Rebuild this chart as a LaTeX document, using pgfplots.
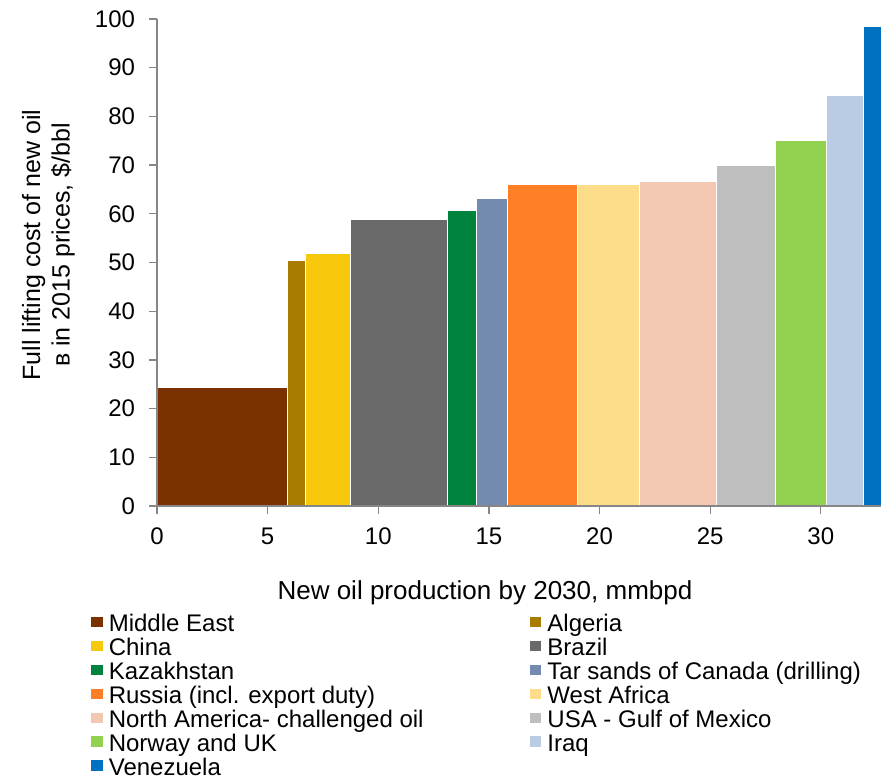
\documentclass[border=0pt]{standalone}
\usepackage{fontspec}
\setmainfont{Liberation Sans}
\usepackage{pgfplots}
\pgfplotsset{compat=1.18}

\definecolor{axgray}{RGB}{134,134,134}
\definecolor{cME}{RGB}{122,51,0}
\definecolor{cAL}{RGB}{168,124,0}
\definecolor{cCN}{RGB}{248,200,12}
\definecolor{cBR}{RGB}{105,105,105}
\definecolor{cKZ}{RGB}{0,132,61}
\definecolor{cCA}{RGB}{114,139,174}
\definecolor{cRU}{RGB}{255,127,39}
\definecolor{cWA}{RGB}{253,220,138}
\definecolor{cNA}{RGB}{242,200,178}
\definecolor{cUS}{RGB}{190,190,190}
\definecolor{cNO}{RGB}{146,208,80}
\definecolor{cIQ}{RGB}{185,204,228}
\definecolor{cVE}{RGB}{0,112,192}

\begin{document}
\begin{tikzpicture}
\begin{axis}[
  name=ax,
  scale only axis,
  width=724pt, height=487pt,
  xmin=0, xmax=32.72, ymin=0, ymax=100,
  xtick={0,5,...,30}, ytick={0,10,...,100},
  axis x line*=bottom, axis y line*=left,
  axis line style={draw=axgray, line width=1.3pt, -},
  tick style={draw=axgray, line width=1.3pt},
  tick align=outside, major tick length=7.5pt,
  axis on top,
  ticklabel style={font=\fontsize{24}{24}\selectfont},
  xticklabel shift=11pt, yticklabel shift=11pt,
  /pgf/number format/assume math mode=true,
  xlabel={New oil production by 2030, mmbpd},
  xlabel style={font=\fontsize{26}{26}\selectfont,
    at={(axis description cs:0.453,-0.191)}, anchor=base},
  ylabel={Full lifting cost of new oil\\в in 2015 prices, \$/bbl},
  ylabel style={font=\fontsize{25}{29.5}\selectfont, align=center,
    at={(axis description cs:-0.150,0.536)}, anchor=center},
  legend columns=2,
  legend cell align=left,
  legend style={at={(axis description cs:-0.0925,-0.2235)}, anchor=north west,
    draw=none, fill=none, inner sep=0pt, outer sep=0pt,
    row sep=0pt, column sep=0pt,
    font=\fontsize{24}{24}\selectfont,
    nodes={inner sep=0pt, text height=17pt, text depth=6.9pt},
    /tikz/every even column/.append style={column sep=105pt}},
  legend image code/.code={\fill[#1] (0pt,-1pt) rectangle (12.5pt,10.5pt); \path (18pt,0pt);},
]
% each producer is a block: width = volume (mmbpd), height = cost ($/bbl)
\addplot[fill=cME, draw=white, line width=0.8pt] coordinates {(0,24.4) (5.90,24.4)} \closedcycle;
\addlegendentry{Middle East}
\addplot[fill=cAL, draw=white, line width=0.8pt] coordinates {(5.90,50.5) (6.72,50.5)} \closedcycle;
\addlegendentry{Algeria}
\addplot[fill=cCN, draw=white, line width=0.8pt] coordinates {(6.72,51.9) (8.72,51.9)} \closedcycle;
\addlegendentry{China}
\addplot[fill=cBR, draw=white, line width=0.8pt] coordinates {(8.72,58.9) (13.12,58.9)} \closedcycle;
\addlegendentry{Brazil}
\addplot[fill=cKZ, draw=white, line width=0.8pt] coordinates {(13.12,60.7) (14.43,60.7)} \closedcycle;
\addlegendentry{Kazakhstan}
\addplot[fill=cCA, draw=white, line width=0.8pt] coordinates {(14.43,63.1) (15.83,63.1)} \closedcycle;
\addlegendentry{Tar sands of Canada (drilling)}
\addplot[fill=cRU, draw=white, line width=0.8pt] coordinates {(15.83,66.1) (19.0,66.1)} \closedcycle;
\addlegendentry{Russia (incl. export duty)}
\addplot[fill=cWA, draw=white, line width=0.8pt] coordinates {(19.0,66.0) (21.8,66.0)} \closedcycle;
\addlegendentry{West Africa}
\addplot[fill=cNA, draw=white, line width=0.8pt] coordinates {(21.8,66.7) (25.3,66.7)} \closedcycle;
\addlegendentry{North America- challenged oil}
\addplot[fill=cUS, draw=white, line width=0.8pt] coordinates {(25.3,69.9) (27.93,69.9)} \closedcycle;
\addlegendentry{USA - Gulf of Mexico}
\addplot[fill=cNO, draw=white, line width=0.8pt] coordinates {(27.93,75.1) (30.23,75.1)} \closedcycle;
\addlegendentry{Norway and UK}
\addplot[fill=cIQ, draw=white, line width=0.8pt] coordinates {(30.23,84.4) (31.92,84.4)} \closedcycle;
\addlegendentry{Iraq}
\addplot[fill=cVE, draw=white, line width=0.8pt] coordinates {(31.92,98.4) (32.72,98.4)} \closedcycle;
\addlegendentry{Venezuela}
\end{axis}
\pgfresetboundingbox
\path ([shift={(-157pt,-274pt)}]ax.south west) rectangle ([shift={(730pt,506pt)}]ax.south west);
\end{tikzpicture}
\end{document}
